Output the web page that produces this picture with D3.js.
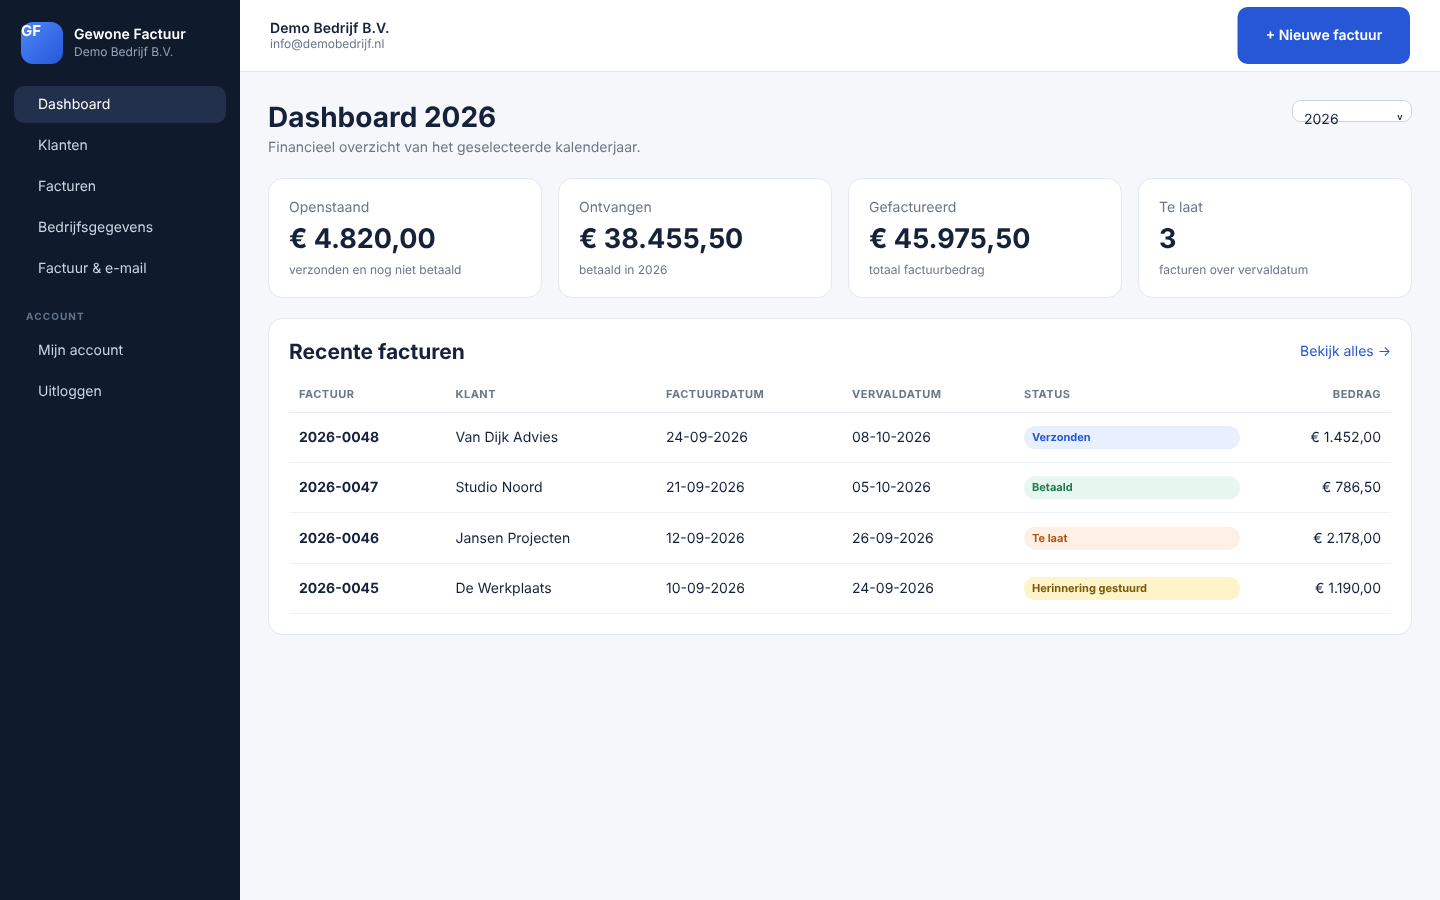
<!DOCTYPE html>
<html lang="nl">
<head>
<meta charset="utf-8">
<title>Dashboard 2026</title>
<script src="https://cdn.jsdelivr.net/npm/d3@7"></script>
<style>
  html, body { margin: 0; padding: 0; background: #f5f7fb; overflow: hidden; }
  text { font-family: Inter, "Noto Sans", sans-serif; text-rendering: geometricPrecision; filter: blur(0.25px); }
</style>
</head>
<body>
<div id="page"></div>
<script>
// Invoice dashboard, drawn as one svg

const navItems = ["Dashboard", "Klanten", "Facturen", "Bedrijfsgegevens", "Factuur & e-mail"];
const accountItems = ["Mijn account", "Uitloggen"];
const cardLabels = ["Openstaand", "Ontvangen", "Gefactureerd", "Te laat"];
const cardValues = ["€ 4.820,00", "€ 38.455,50", "€ 45.975,50", "3"];
const cardNotes = ["verzonden en nog niet betaald", "betaald in 2026", "totaal factuurbedrag", "facturen over vervaldatum"];
const columns = ["FACTUUR", "KLANT", "FACTUURDATUM", "VERVALDATUM", "STATUS"];
const invoices = ["2026-0048", "2026-0047", "2026-0046", "2026-0045"];
const clients = ["Van Dijk Advies", "Studio Noord", "Jansen Projecten", "De Werkplaats"];
const invoiceDates = ["24-09-2026", "21-09-2026", "12-09-2026", "10-09-2026"];
const dueDates = ["08-10-2026", "05-10-2026", "26-09-2026", "24-09-2026"];
const statuses = ["Verzonden", "Betaald", "Te laat", "Herinnering gestuurd"];
const amounts = ["€ 1.452,00", "€ 786,50", "€ 2.178,00", "€ 1.190,00"];

const statusFill = d3.scaleOrdinal(statuses, ["#e8effe", "#e7f6ef", "#fff0e6", "#fff3c9"]);
const statusText = d3.scaleOrdinal(statuses, ["#2557d6", "#1f7a4d", "#b4540f", "#7a5a0a"]);
const grey = "#6b7688";

const svg = d3.select("#page").append("svg")
  .attr("width", 1440)
  .attr("height", 900)
  .style("display", "block");

const defs = svg.append("defs");
const grad = defs.append("linearGradient").attr("id", "logo")
  .attr("x1", 0).attr("y1", 0).attr("x2", 1).attr("y2", 1);
grad.append("stop").attr("offset", 0).attr("stop-color", "#4f86fb");
grad.append("stop").attr("offset", 1).attr("stop-color", "#2557d6");

// small helper for all the labels
function label(g, x, y, str, size, weight, color, anchor, spacing) {
  return g.append("text")
    .attr("x", x).attr("y", y)
    .attr("font-size", size)
    .attr("font-weight", weight)
    .attr("fill", color)
    .attr("text-anchor", anchor || "start")
    .attr("letter-spacing", spacing || 0)
    .text(str);
}

// Background
svg.append("rect").attr("width", 1440).attr("height", 900).attr("fill", "#f5f7fb");
svg.append("rect").attr("x", 240).attr("width", 1200).attr("height", 71).attr("fill", "#fff");
svg.append("rect").attr("x", 240).attr("y", 71).attr("width", 1200).attr("height", 1).attr("fill", "#e3e8f0");

// Sidebar
const side = svg.append("g");
side.append("rect").attr("width", 240).attr("height", 900).attr("fill", "#0f1b2d");
side.append("rect").attr("x", 21).attr("y", 22).attr("width", 42).attr("height", 42).attr("rx", 12).attr("fill", "url(#logo)");
label(side, 21, 36, "GF", 15, 700, "#fff");
label(side, 74, 39, "Gewone Factuur", 14, 600, "#fff", "start", 0.07);
label(side, 74, 56, "Demo Bedrijf B.V.", 12, 400, "#94a3b8");

const navY = d3.scalePoint().domain(navItems).range([104, 268]);
side.append("rect").attr("x", 14).attr("y", 86).attr("width", 212).attr("height", 37).attr("rx", 10).attr("fill", "#22304d");
side.selectAll(".nav").data(navItems).enter().append("text")
  .attr("class", "nav")
  .attr("x", 38)
  .attr("y", d => navY(d) + 5)
  .attr("font-size", 14)
  .attr("fill", (d, i) => i === 0 ? "#fff" : "#cbd5e1")
  .text(d => d);

label(side, 26, 320, "ACCOUNT", 10, 700, "#64748b", "start", 1.1);
const accountY = d3.scalePoint().domain(accountItems).range([350, 391]);
side.selectAll(".acc").data(accountItems).enter().append("text")
  .attr("class", "acc")
  .attr("x", 38)
  .attr("y", d => accountY(d) + 5)
  .attr("font-size", 14)
  .attr("fill", "#cbd5e1")
  .text(d => d);

// Top bar
label(svg, 270, 33, "Demo Bedrijf B.V.", 14, 600, "#16213a", "start", 0.07);
label(svg, 270, 48, "info@demobedrijf.nl", 12, 400, grey);
svg.append("rect").attr("x", 1237.5).attr("y", 7).attr("width", 172.5).attr("height", 57).attr("rx", 10).attr("fill", "#2557d6");
label(svg, 1324, 40, "+ Nieuwe factuur", 14, 600, "#fff", "middle");

// Heading
label(svg, 268, 127, "Dashboard 2026", 28, 700, "#16213a");
label(svg, 268, 152, "Financieel overzicht van het geselecteerde kalenderjaar.", 14, 400, grey);

// Year select (the text overflows the box in the original too)
svg.append("rect").attr("x", 1292.5).attr("y", 100.5).attr("width", 119).attr("height", 21).attr("rx", 8)
  .attr("fill", "#fff").attr("stroke", "#cbd5e1");
label(svg, 1304, 124, "2026", 14, 400, "#16213a");
label(svg, 1400, 120, "v", 9, 600, "#16213a", "middle");

// KPI cards
const cardX = d3.scalePoint().domain(cardLabels).range([268, 1138]);
const cards = svg.selectAll(".card").data(cardLabels).enter().append("g")
  .attr("class", "card")
  .attr("transform", d => `translate(${cardX(d)} 178)`);
cards.append("rect").attr("x", 0.5).attr("y", 0.5).attr("width", 273).attr("height", 119).attr("rx", 14)
  .attr("fill", "#fff").attr("stroke", "#e3e8f0");
cards.append("text").attr("x", 21).attr("y", 34).attr("font-size", 14).attr("fill", grey).text(d => d);
cards.append("text").attr("x", 21).attr("y", 70).attr("font-size", 27).attr("font-weight", 700)
  .attr("letter-spacing", -0.05).attr("fill", "#16213a")
  .text((d, i) => cardValues[i]);
cards.append("text").attr("x", 21).attr("y", 96).attr("font-size", 12).attr("fill", grey)
  .text((d, i) => cardNotes[i]);

// Table card
svg.append("rect").attr("x", 268.5).attr("y", 318.5).attr("width", 1143).attr("height", 316).attr("rx", 14)
  .attr("fill", "#fff").attr("stroke", "#e3e8f0");
label(svg, 289, 359, "Recente facturen", 21, 700, "#16213a");
label(svg, 1391, 356, "Bekijk alles →", 14, 400, "#2557d6", "end");

const colX = d3.scaleOrdinal(columns, [299, 455.5, 666, 852, 1024]);
const rowY = d3.scaleLinear().domain([0, 3]).range([437, 588]);
const lineY = [412, 462, 512, 563, 613];

svg.selectAll(".rule").data(lineY).enter().append("rect")
  .attr("class", "rule")
  .attr("x", 289).attr("y", d => d).attr("width", 1102).attr("height", 1)
  .attr("fill", (d, i) => i === 0 ? "#e3e8f0" : "#eef1f6");

svg.selectAll(".head").data(columns).enter().append("text")
  .attr("class", "head")
  .attr("x", d => colX(d)).attr("y", 398)
  .attr("font-size", 11).attr("font-weight", 700).attr("letter-spacing", 0.5).attr("fill", grey)
  .text(d => d);
label(svg, 1381, 398, "BEDRAG", 11, 700, grey, "end", 0.5);

const rows = svg.selectAll(".row").data(invoices).enter().append("g")
  .attr("class", "row")
  .attr("transform", (d, i) => `translate(0 ${rowY(i)})`);
rows.append("text").attr("x", colX("FACTUUR")).attr("y", 5).attr("font-size", 14).attr("font-weight", 700).attr("fill", "#16213a").text(d => d);
rows.append("text").attr("x", colX("KLANT")).attr("y", 5).attr("font-size", 14).attr("fill", "#16213a").text((d, i) => clients[i]);
rows.append("text").attr("x", colX("FACTUURDATUM")).attr("y", 5).attr("font-size", 14).attr("fill", "#16213a").text((d, i) => invoiceDates[i]);
rows.append("text").attr("x", colX("VERVALDATUM")).attr("y", 5).attr("font-size", 14).attr("fill", "#16213a").text((d, i) => dueDates[i]);
rows.append("rect").attr("x", colX("STATUS")).attr("y", -11).attr("width", 216).attr("height", 23).attr("rx", 11.5)
  .attr("fill", (d, i) => statusFill(statuses[i]));
rows.append("text").attr("x", colX("STATUS") + 8).attr("y", 4).attr("font-size", 11).attr("font-weight", 700)
  .attr("fill", (d, i) => statusText(statuses[i])).text((d, i) => statuses[i]);
rows.append("text").attr("x", 1381).attr("y", 5).attr("font-size", 14).attr("text-anchor", "end").attr("fill", "#16213a")
  .text((d, i) => amounts[i]);
</script>
</body>
</html>
